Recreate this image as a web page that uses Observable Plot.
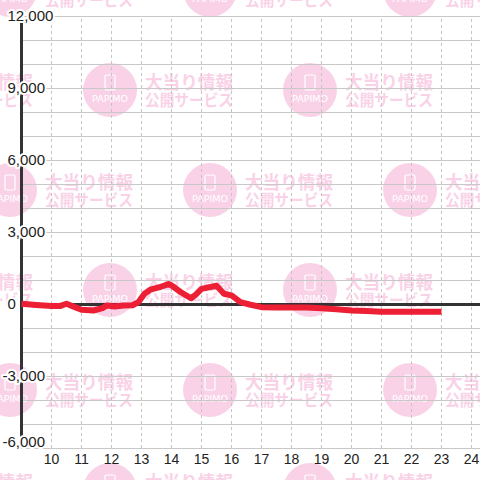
<!DOCTYPE html>
<html>
<head>
<meta charset="utf-8">
<script src="https://cdn.jsdelivr.net/npm/d3@7"></script>
<script src="https://cdn.jsdelivr.net/npm/@observablehq/plot@0.6"></script>
<style>
  html, body { margin: 0; padding: 0; background: #ffffff; }
  #wrap { position: relative; width: 480px; height: 480px; overflow: hidden; }
  #wm, #chart { position: absolute; left: 0; top: 0; }
</style>
</head>
<body>
<div id="wrap"><svg id="wm" width="480" height="480"></svg><div id="chart"></div></div>
<script>
// Data: time of day (hours) and cumulative balance
const hours  = [9.0, 9.5, 10.0, 10.3, 10.5, 10.8, 11.0, 11.4, 11.7, 11.85, 12.1, 12.4, 12.7, 12.9, 13.1, 13.3, 13.6, 13.9, 14.0, 14.3, 14.65, 14.8, 15.0, 15.5, 15.75, 16.0, 16.3, 16.6, 17.0, 17.5, 18.0, 18.5, 19.0, 19.5, 20.0, 20.5, 21.0, 22.0, 23.0];
const values = [30, -20, -60, -60, 30, -120, -220, -250, -150, -40, -80, -40, -30, 100, 450, 620, 720, 850, 800, 520, 260, 400, 650, 780, 450, 380, 100, 0, -110, -120, -120, -130, -160, -200, -250, -270, -300, -300, -300];
const xTicks = [10, 11, 12, 13, 14, 15, 16, 17, 18, 19, 20, 21, 22, 23, 24];
const yTicks = [-6000, -3000, 0, 3000, 6000, 9000, 12000];
const yGrid  = [-6000, -5000, -4000, -3000, -2000, -1000, 0, 1000, 2000, 3000, 4000, 5000, 6000, 7000, 8000, 9000, 10000, 11000, 12000];
const wmLine1 = "大当り情報";
const wmLine2 = "公開サービス";
const wmLogo = "PAPIMO";

const data = hours.map((h, i) => ({h, v: values[i]}));
const fmt = d3.format(",");

// background watermark
const wm = d3.select("#wm");
const pink = "#fad2e8";
for (let r = 0; r < 6; r++) {
  const cy = -10 + r * 100;
  const start = r % 2 === 0 ? 10 : 110;
  for (let cx = start - 200; cx < 600; cx += 200) {
    wm.append("circle").attr("cx", cx).attr("cy", cy).attr("r", 27).attr("fill", pink);
    wm.append("rect").attr("x", cx - 5).attr("y", cy - 15).attr("width", 10).attr("height", 15)
      .attr("rx", 1.5).attr("fill", "none").attr("stroke", "#ffffff").attr("stroke-width", 1.2);
    wm.append("text").attr("x", cx).attr("y", cy + 12).attr("text-anchor", "middle")
      .attr("textLength", 36).attr("lengthAdjust", "spacingAndGlyphs")
      .attr("font-family", "DejaVu Sans, sans-serif").attr("font-size", 8.5)
      .attr("fill", "#ffffff").text(wmLogo);
    wm.append("text").attr("x", cx + 35).attr("y", cy - 1).attr("textLength", 88).attr("lengthAdjust", "spacingAndGlyphs")
      .attr("font-family", "Noto Sans CJK JP, sans-serif").attr("font-size", 18).attr("font-weight", "bold")
      .attr("fill", pink).text(wmLine1);
    wm.append("text").attr("x", cx + 35).attr("y", cy + 16).attr("textLength", 88).attr("lengthAdjust", "spacingAndGlyphs")
      .attr("font-family", "Noto Sans CJK JP, sans-serif").attr("font-size", 16).attr("font-weight", "bold")
      .attr("fill", pink).text(wmLine2);
  }
}

const labelStyle = {fill: "#222", stroke: "white", strokeWidth: 4, fontSize: 15, lineAnchor: "middle", frameAnchor: "left", textAnchor: "start"};

const chart = Plot.plot({
  width: 480,
  height: 480,
  marginLeft: 21,
  marginRight: 0,
  marginTop: 16,
  marginBottom: 32,
  style: {background: "transparent", fontFamily: "Liberation Sans, Arial, sans-serif", overflow: "visible"},
  x: {domain: [9, 24.3], axis: null},
  y: {domain: [-6000, 12000], axis: null},
  marks: [
    Plot.ruleY(yGrid, {stroke: "#c8c8c8", strokeWidth: 1.2}),
    Plot.ruleX(xTicks, {y1: -6000, y2: 12000, stroke: "#c4c4c4", strokeWidth: 1, strokeDasharray: "3,3"}),
    Plot.ruleX([9], {y1: -6000, y2: 12000, stroke: "#333", strokeWidth: 3}),
    Plot.ruleY([0], {x1: 9, x2: 24.3, stroke: "#333", strokeWidth: 3}),
    Plot.line(data, {x: "h", y: "v", stroke: "#ec1f35", strokeWidth: 6, strokeLinecap: "butt", strokeLinejoin: "round"}),
    Plot.axisX(xTicks, {anchor: "bottom", tickSize: 0, tickPadding: 6, fontSize: 14, fill: "#222", tickFormat: d => String(d), label: null}),
    Plot.text(yTicks.filter(d => d >= 0), {...labelStyle, y: d => d, text: d => fmt(d), dx: -14}),
    Plot.text(yTicks.filter(d => d < 0 && d > -6000), {...labelStyle, y: d => d, text: d => fmt(d).replace("−", "-"), dx: -19}),
    Plot.text(yTicks.filter(d => d === -6000), {...labelStyle, y: d => d, text: d => fmt(d).replace("−", "-"), dx: -19, dy: -6})
  ]
});
document.getElementById("chart").appendChild(chart);
</script>
</body>
</html>
